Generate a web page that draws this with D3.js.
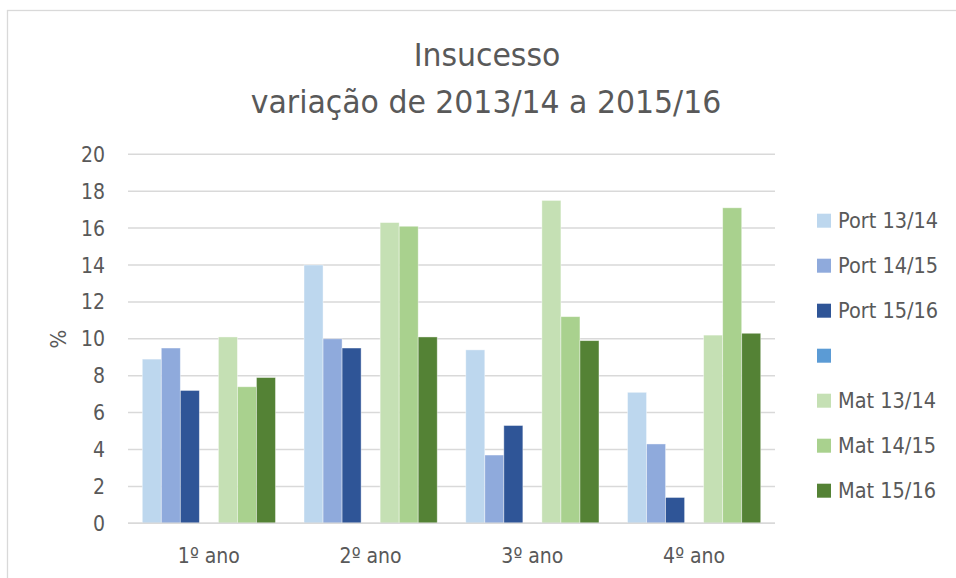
<!DOCTYPE html>
<html>
<head>
<meta charset="utf-8">
<script src="https://cdn.jsdelivr.net/npm/d3@7"></script>
<style>
  body { margin: 0; background: #fff; }
  svg text { font-family: 'DejaVu Sans Condensed', 'DejaVu Sans', sans-serif; fill: #595959; }
</style>
</head>
<body>
<div id="viz"><svg></svg></div>
<script>
const fullWidth = 956;
const fullHeight = 578;

const categories = ['1º ano', '2º ano', '3º ano', '4º ano'];
const seriesNames = ['Port 13/14', 'Port 14/15', 'Port 15/16', '', 'Mat 13/14', 'Mat 14/15', 'Mat 15/16'];
const seriesColors = ['#BDD7EE', '#8FAADC', '#2F5597', '#5B9BD5', '#C5E0B4', '#A9D18E', '#548235'];

// one array per series, values per category (the blank series has none)
const port1314 = [8.9, 14.0, 9.4, 7.1];
const port1415 = [9.5, 10.0, 3.7, 4.3];
const port1516 = [7.2, 9.5, 5.3, 1.4];
const blank = [null, null, null, null];
const mat1314 = [10.1, 16.3, 17.5, 10.2];
const mat1415 = [7.4, 16.1, 11.2, 17.1];
const mat1516 = [7.9, 10.1, 9.9, 10.3];

const yTicks = [0, 2, 4, 6, 8, 10, 12, 14, 16, 18, 20];

const seriesValues = [port1314, port1415, port1516, blank, mat1314, mat1415, mat1516];

const plot = { left: 128, right: 775, top: 154.3, bottom: 523.3 };

const svg = d3.select('#viz svg')
  .attr('width', fullWidth)
  .attr('height', fullHeight);

// chart frame
svg.append('rect')
  .attr('x', 7.5)
  .attr('y', 10.5)
  .attr('width', 1000)
  .attr('height', 1000)
  .attr('fill', 'none')
  .attr('stroke', '#D9D9D9')
  .attr('stroke-width', 1.3);

// title (slightly stretched to mimic the original's font)
svg.append('text')
  .attr('transform', 'translate(487,66) scale(1.04,1)')
  .attr('text-anchor', 'middle')
  .style('font-size', '32px')
  .text('Insucesso');
svg.append('text')
  .attr('transform', 'translate(486,113) scale(1.04,1)')
  .attr('text-anchor', 'middle')
  .style('font-size', '32px')
  .text('variação de 2013/14 a 2015/16');

const x0 = d3.scaleBand()
  .domain(categories)
  .range([plot.left, plot.right])
  .paddingInner(1.5 / 8.5)
  .paddingOuter(0.75 / 8.5);

const x1 = d3.scaleBand()
  .domain(seriesNames.map((d, i) => i))
  .range([0, x0.bandwidth()]);

const y = d3.scaleLinear()
  .domain([0, 20])
  .range([plot.bottom, plot.top]);

// gridlines
svg.append('g')
  .selectAll('line')
  .data(yTicks)
  .enter().append('line')
  .attr('x1', plot.left)
  .attr('x2', plot.right)
  .attr('y1', d => y(d))
  .attr('y2', d => y(d))
  .attr('stroke', '#D9D9D9')
  .attr('stroke-width', 1.5);

// y tick labels
svg.append('g')
  .selectAll('text')
  .data(yTicks)
  .enter().append('text')
  .attr('x', 105)
  .attr('y', d => y(d))
  .attr('dy', '0.36em')
  .attr('text-anchor', 'end')
  .style('font-size', '21px')
  .text(d => d);

// y axis title
svg.append('text')
  .attr('transform', 'translate(66,339) rotate(-90)')
  .attr('text-anchor', 'middle')
  .style('font-size', '22px')
  .text('%');

// bars
const barData = [];
categories.forEach((c, ci) => {
  seriesValues.forEach((vals, si) => {
    if (vals[ci] != null) barData.push({ cat: c, s: si, value: vals[ci] });
  });
});

svg.append('g')
  .selectAll('rect')
  .data(barData)
  .enter().append('rect')
  .attr('x', d => x0(d.cat) + x1(d.s))
  .attr('y', d => y(d.value))
  .attr('width', x1.bandwidth())
  .attr('height', d => y(0) - y(d.value))
  .attr('fill', d => seriesColors[d.s])
  .attr('stroke', 'rgba(255,255,255,0.5)')
  .attr('stroke-width', 0.8);

// baseline
svg.append('line')
  .attr('x1', plot.left)
  .attr('x2', plot.right)
  .attr('y1', y(0))
  .attr('y2', y(0))
  .attr('stroke', '#D9D9D9')
  .attr('stroke-width', 1.5);

// category labels
svg.append('g')
  .selectAll('text')
  .data(categories)
  .enter().append('text')
  .attr('x', d => x0(d) + x0.bandwidth() / 2)
  .attr('y', 563)
  .attr('text-anchor', 'middle')
  .style('font-size', '21px')
  .text(d => d);

// legend
const legend = svg.append('g')
  .selectAll('g')
  .data(seriesNames)
  .enter().append('g')
  .attr('transform', (d, i) => `translate(817,${220.7 + i * 45})`);

legend.append('rect')
  .attr('x', 0)
  .attr('y', -7)
  .attr('width', 14)
  .attr('height', 14)
  .attr('fill', (d, i) => seriesColors[i]);

legend.append('text')
  .attr('x', 21)
  .attr('dy', '0.36em')
  .style('font-size', '21.5px')
  .text(d => d);
</script>
</body>
</html>
